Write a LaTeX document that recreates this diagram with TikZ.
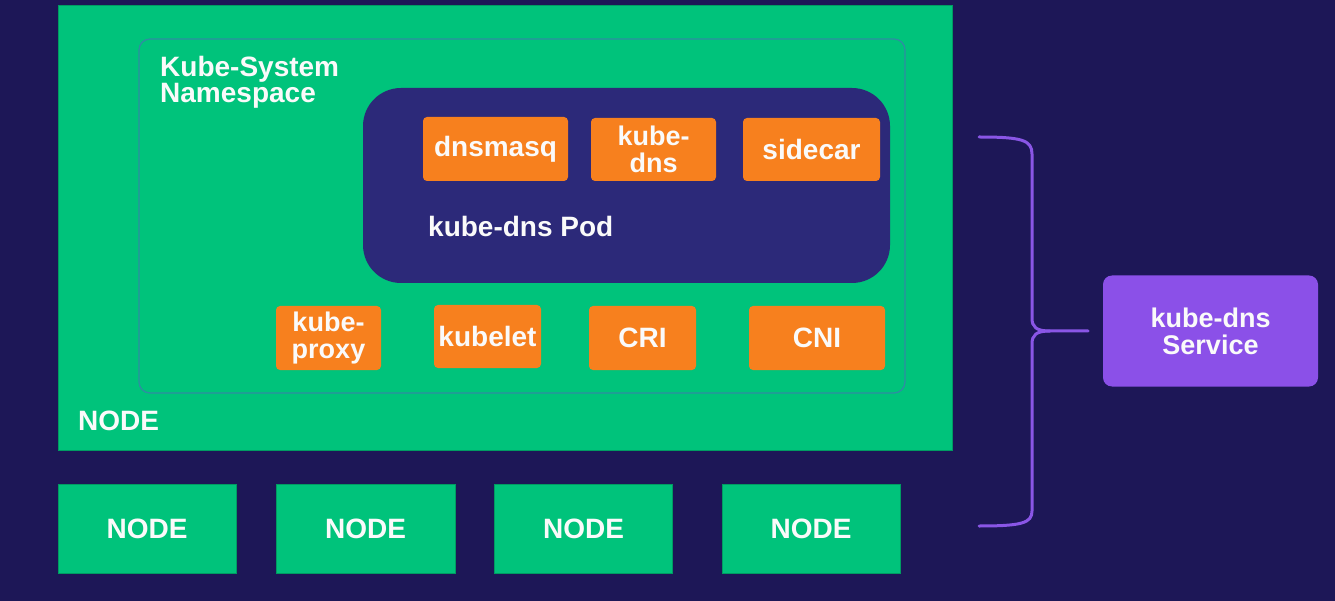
\documentclass[tikz,border=0pt]{standalone}
\usepackage{fontspec}
\setmainfont{Liberation Sans}
\definecolor{bgc}{HTML}{1D1757}
\definecolor{greenc}{HTML}{00C37B}
\definecolor{orangec}{HTML}{F7801E}
\definecolor{podc}{HTML}{2C2979}
\definecolor{nsline}{HTML}{2F8DA2}
\definecolor{purplec}{HTML}{8B50E8}
\definecolor{bracec}{HTML}{8A56E6}
\definecolor{txtc}{HTML}{FAFAFA}
\begin{document}
\begin{tikzpicture}[x=1pt,y=-1pt,
  lbl/.style={text=txtc,font=\bfseries\fontsize{28}{25}\selectfont,align=center,inner sep=0pt},
  twoline/.style={font=\bfseries\fontsize{27}{27}\selectfont},
  nodebox/.style={fill=greenc,draw=greenc!80!black,line width=0.6pt,inner sep=0pt,lbl},
  container/.style={fill=orangec,rounded corners=4pt,inner sep=0pt,lbl},
  brace/.style={draw=bracec,line width=3pt,line cap=round}]
\fill[bgc] (0,0) rectangle (1335,601);
\useasboundingbox (0,0) rectangle (1335,601);
% main node
\node[nodebox,minimum width=894,minimum height=445] (main) at (505,227.5) {};
\node[fill=none,draw=nsline,line width=1.3pt,rounded corners=11pt,minimum width=766,minimum height=354] (ns) at (522,216) {};
\node[lbl,anchor=north west,align=left,font=\bfseries\fontsize{28}{26}\selectfont] (nslabel) at (160,56) {Kube-System\\Namespace};
\node[fill=podc,rounded corners=38pt,minimum width=527,minimum height=195] (pod) at (626.5,185.5) {};
\node[container,minimum width=145,minimum height=64] (dnsmasq) at (495.5,149) {dnsmasq};
\node[container,twoline,minimum width=125,minimum height=63] (kubedns) at (653.5,149.5) {kube-\\dns};
\node[container,minimum width=137,minimum height=63] (sidecar) at (811.5,149.5) {sidecar};
\node[lbl,anchor=west] (podlabel) at (428,226) {kube-dns Pod};
\node[container,twoline,minimum width=105,minimum height=64] (kproxy) at (328.5,338) {kube-\\proxy};
\node[container,minimum width=107,minimum height=63] (kubelet) at (487.5,336.5) {kubelet};
\node[container,minimum width=107,minimum height=64] (cri) at (642.5,338) {CRI};
\node[container,minimum width=136,minimum height=64] (cni) at (817,338) {CNI};
\node[lbl,anchor=west] (mainlabel) at (78,421) {NODE};
% other nodes
\node[nodebox,minimum width=178,minimum height=89] (n1) at (147,528.5) {NODE};
\node[nodebox,minimum width=179,minimum height=89] (n2) at (365.5,528.5) {NODE};
\node[nodebox,minimum width=178,minimum height=89] (n3) at (583.5,528.5) {NODE};
\node[nodebox,minimum width=178,minimum height=89] (n4) at (811,528.5) {NODE};
% service
\node[fill=purplec,rounded corners=9pt,minimum width=215,minimum height=111,lbl,font=\bfseries\fontsize{27}{27}\selectfont] (svc) at (1210.5,331) {kube-dns\\Service};
% brace
\coordinate (btop) at (979,137);
\coordinate (bbot) at (979,526);
\coordinate (btip) at (1088,331);
\draw[brace] (btop) .. controls (1022,137) and (1032,140) .. (1032,154)
  -- (1032,318) .. controls (1032,327) and (1036,331) .. (1050,331) -- (btip);
\draw[brace] (1050,331) .. controls (1036,331) and (1032,335) .. (1032,344)
  -- (1032,511) .. controls (1032,523) and (1022,526) .. (bbot);
\end{tikzpicture}
\end{document}
